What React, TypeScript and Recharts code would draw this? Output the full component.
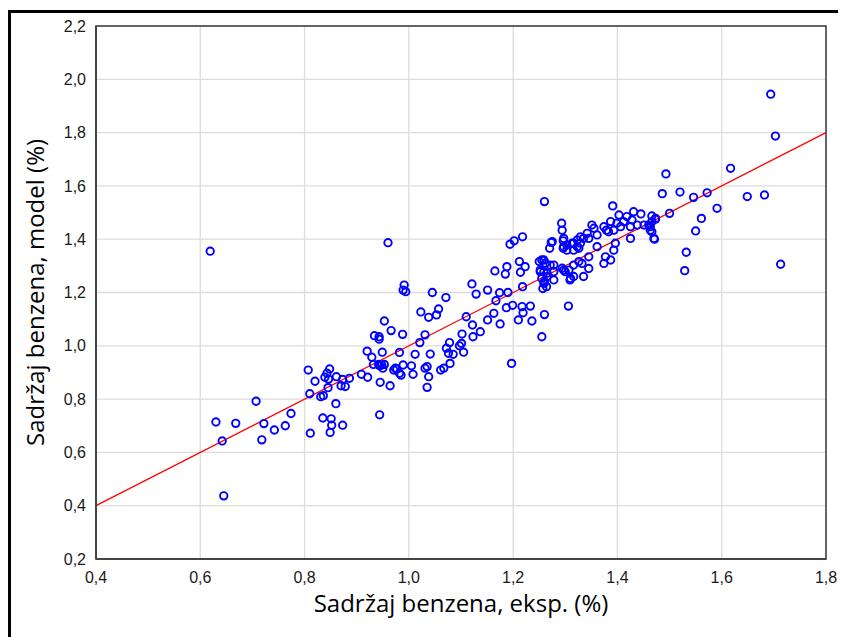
import React from 'react';
import { ScatterChart, Scatter, XAxis, YAxis, CartesianGrid, ReferenceLine, ReferenceArea } from 'recharts';

const expX = [
  0.619, 0.630, 0.642, 0.645, 0.668, 0.707, 0.722, 0.718, 0.742, 0.763, 0.774, 0.807, 0.810, 0.811, 0.820,
  0.831, 0.836, 0.835, 0.839, 0.843, 0.845, 0.846, 0.848, 0.849, 0.851, 0.852, 0.860, 0.861, 0.870, 0.873,
  0.873, 0.878, 0.886, 0.909, 0.920, 0.921, 0.929, 0.932, 0.934, 0.942, 0.943, 0.943, 0.944, 0.944, 0.945,
  0.948, 0.949, 0.950, 0.953, 0.953, 0.960, 0.964, 0.966, 0.971, 0.974, 0.977, 0.982, 0.982, 0.985, 0.988,
  0.989, 0.989, 0.991, 0.994, 1.005, 1.008, 1.012, 1.021, 1.023, 1.031, 1.031, 1.035, 1.035, 1.038, 1.038,
  1.041, 1.045, 1.053, 1.057, 1.061, 1.067, 1.071, 1.072, 1.076, 1.078, 1.079, 1.085, 1.097, 1.101, 1.102,
  1.105, 1.110, 1.121, 1.122, 1.123, 1.129, 1.137, 1.151, 1.151, 1.163, 1.165, 1.167, 1.174, 1.175, 1.185,
  1.187, 1.188, 1.190, 1.194, 1.197, 1.199, 1.202, 1.210, 1.212, 1.214, 1.217, 1.218, 1.218, 1.219, 1.223,
  1.233, 1.236, 1.250, 1.252, 1.252, 1.255, 1.255, 1.255, 1.257, 1.259, 1.259, 1.259, 1.260, 1.260, 1.260,
  1.262, 1.264, 1.265, 1.265, 1.270, 1.271, 1.273, 1.275, 1.278, 1.278, 1.278, 1.293, 1.294, 1.294, 1.296,
  1.296, 1.297, 1.297, 1.297, 1.300, 1.303, 1.303, 1.306, 1.307, 1.309, 1.310, 1.313, 1.316, 1.316, 1.316,
  1.316, 1.323, 1.323, 1.326, 1.326, 1.329, 1.329, 1.332, 1.335, 1.335, 1.342, 1.345, 1.345, 1.345, 1.351,
  1.355, 1.361, 1.361, 1.374, 1.374, 1.377, 1.379, 1.383, 1.387, 1.387, 1.391, 1.393, 1.393, 1.396, 1.399,
  1.403, 1.406, 1.412, 1.418, 1.425, 1.425, 1.428, 1.431, 1.438, 1.445, 1.451, 1.460, 1.463, 1.463, 1.466,
  1.466, 1.466, 1.470, 1.471, 1.473, 1.473, 1.486, 1.493, 1.500, 1.520, 1.529, 1.532, 1.546, 1.550, 1.561,
  1.572, 1.591, 1.617, 1.649, 1.682, 1.694, 1.703, 1.713,
];
const modelY = [
  1.355, 0.714, 0.643, 0.437, 0.709, 0.792, 0.708, 0.647, 0.684, 0.700, 0.746, 0.909, 0.820, 0.672, 0.867,
  0.809, 0.813, 0.729, 0.882, 0.897, 0.843, 0.875, 0.913, 0.675, 0.726, 0.702, 0.783, 0.884, 0.850, 0.874,
  0.702, 0.847, 0.878, 0.893, 0.980, 0.882, 0.957, 0.930, 1.038, 0.930, 1.034, 1.025, 0.925, 0.741, 0.863,
  0.928, 0.976, 0.916, 1.093, 0.930, 1.387, 0.850, 1.057, 0.909, 0.916, 0.913, 0.975, 0.897, 0.890, 1.043,
  0.928, 1.209, 1.228, 1.203, 0.925, 0.893, 0.968, 1.012, 1.127, 1.041, 0.916, 0.922, 0.844, 1.107, 0.884,
  0.969, 1.200, 1.116, 1.138, 0.909, 0.916, 1.181, 0.991, 0.972, 1.012, 0.934, 0.968, 1.000, 1.009, 1.044,
  0.976, 1.109, 1.232, 1.078, 1.034, 1.194, 1.053, 1.209, 1.097, 1.122, 1.281, 1.169, 1.199, 1.082, 1.269,
  1.143, 1.297, 1.200, 1.381, 0.934, 1.152, 1.394, 1.097, 1.316, 1.276, 1.147, 1.409, 1.222, 1.124, 1.297,
  1.149, 1.093, 1.316, 1.284, 1.278, 1.253, 1.322, 1.034, 1.215, 1.322, 1.278, 1.234, 1.541, 1.241, 1.117,
  1.310, 1.222, 1.272, 1.260, 1.366, 1.303, 1.388, 1.391, 1.278, 1.247, 1.303, 1.460, 1.434, 1.291, 1.394,
  1.366, 1.403, 1.372, 1.284, 1.278, 1.378, 1.359, 1.149, 1.284, 1.247, 1.253, 1.385, 1.359, 1.385, 1.260,
  1.303, 1.372, 1.397, 1.316, 1.366, 1.385, 1.409, 1.309, 1.403, 1.260, 1.422, 1.403, 1.334, 1.290, 1.453,
  1.441, 1.416, 1.372, 1.447, 1.309, 1.334, 1.434, 1.428, 1.466, 1.322, 1.525, 1.434, 1.359, 1.385, 1.460,
  1.491, 1.447, 1.466, 1.485, 1.447, 1.403, 1.472, 1.503, 1.453, 1.495, 1.453, 1.453, 1.434, 1.447, 1.466,
  1.487, 1.428, 1.403, 1.400, 1.478, 1.475, 1.571, 1.645, 1.497, 1.577, 1.282, 1.351, 1.557, 1.431, 1.478,
  1.574, 1.516, 1.666, 1.560, 1.566, 1.944, 1.787, 1.306,
];

const xTicks = [0.4, 0.6, 0.8, 1.0, 1.2, 1.4, 1.6, 1.8];
const yTicks = [0.2, 0.4, 0.6, 0.8, 1.0, 1.2, 1.4, 1.6, 1.8, 2.0, 2.2];

// y = x reference line
const fitX = [0.4, 1.8];
const fitY = [0.4, 1.8];

const points = expX.map((x, i) => ({ x, y: modelY[i] }));

const fmt = (v: number) => v.toFixed(1).replace('.', ',');

const Ring = (props: any) => {
  const { cx, cy } = props;
  if (cx == null || cy == null) return null;
  return <circle cx={cx} cy={cy} r={3.7} fill="none" stroke="#0000ff" strokeWidth={1.9} />;
};

const tickStyle = { fill: '#1a1a1a', fontSize: 16, fontFamily: '"Liberation Sans", Arial, sans-serif' };
const titleStyle = { fill: '#000', fontSize: 24, fontFamily: '"Open Sans", sans-serif' };

export default function App() {
  return (
    <div style={{ position: 'relative', width: 838, height: 629, overflow: 'hidden', background: '#fff' }}>
      <div
        style={{
          position: 'absolute',
          left: 0,
          top: 2,
          width: 860,
          height: 660,
          borderTop: '3px solid #000',
          borderLeft: '3px solid #000',
          boxSizing: 'border-box',
        }}
      />
      <div style={{ position: 'absolute', left: 0, top: 0 }}>
        <ScatterChart width={838} height={629} margin={{ top: 18, right: 20, left: 0, bottom: 0 }}>
          <CartesianGrid stroke="#dcdcdc" strokeWidth={1.3} />
          <XAxis
            type="number"
            dataKey="x"
            domain={[0.4, 1.8]}
            ticks={xTicks}
            allowDataOverflow
            height={78}
            tickFormatter={fmt}
            tick={tickStyle}
            tickLine={false}
            tickSize={0}
            tickMargin={13}
            axisLine={{ stroke: '#3a3a3a', strokeWidth: 1.5 }}
            label={{ value: 'Sadržaj benzena, eksp. (%)', position: 'insideBottom', offset: 25, style: titleStyle }}
          />
          <YAxis
            type="number"
            dataKey="y"
            domain={[0.2, 2.2]}
            ticks={yTicks}
            allowDataOverflow
            width={88}
            tickFormatter={fmt}
            tick={tickStyle}
            tickLine={false}
            tickSize={0}
            tickMargin={10}
            axisLine={{ stroke: '#3a3a3a', strokeWidth: 1.5 }}
            label={{
              value: 'Sadržaj benzena, model (%)',
              angle: -90,
              position: 'insideLeft',
              offset: 27,
              style: { ...titleStyle, textAnchor: 'middle' },
            }}
          />
          <ReferenceArea
            x1={0.4}
            x2={1.8}
            y1={0.2}
            y2={2.2}
            fill="none"
            fillOpacity={0}
            stroke="#3a3a3a"
            strokeWidth={1.5}
            ifOverflow="visible"
          />
          <Scatter data={points} shape={Ring} isAnimationActive={false} />
          <ReferenceLine
            segment={[
              { x: fitX[0], y: fitY[0] },
              { x: fitX[1], y: fitY[1] },
            ]}
            stroke="#ff0000"
            strokeWidth={1.3}
            ifOverflow="visible"
          />
        </ScatterChart>
      </div>
    </div>
  );
}
